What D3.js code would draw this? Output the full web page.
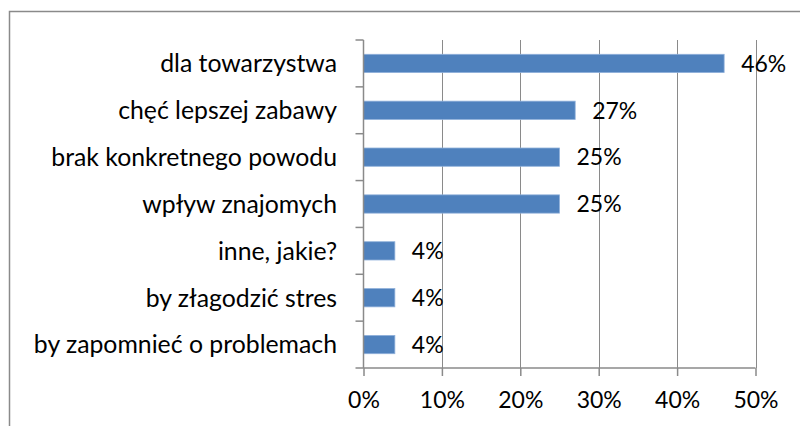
<!DOCTYPE html>
<html>
<head>
<meta charset="utf-8">
<script src="https://cdn.jsdelivr.net/npm/d3@7"></script>
<style>
  html, body { margin: 0; padding: 0; background: #fff; }
  svg { display: block; }
  text { font-family: Lato, "Open Sans", sans-serif; fill: #000; }
</style>
</head>
<body>
<div id="container"></div>
<script>

const categories = [
    "dla towarzystwa",
    "chęć lepszej zabawy",
    "brak konkretnego powodu",
    "wpływ znajomych",
    "inne, jakie?",
    "by złagodzić stres",
    "by zapomnieć o problemach"
];
const values = [46, 27, 25, 25, 4, 4, 4];
const valueLabels = ["46%", "27%", "25%", "25%", "4%", "4%", "4%"];
const xTicks = [0, 10, 20, 30, 40, 50];
const xTickLabels = ["0%", "10%", "20%", "30%", "40%", "50%"];

function main() {
    const svgWidth = 800;
    const svgHeight = 426;
    const labelSize = 24.8;
    const numberSize = 23;

    const svg = d3.select("#container")
        .append("svg")
        .attr("width", svgWidth)
        .attr("height", svgHeight);

    // chart frame (runs off the right and bottom edges)
    svg.append("path")
        .attr("d", "M9.5," + (svgHeight + 2) + "V11.5H" + (svgWidth + 2))
        .attr("fill", "none")
        .attr("stroke", "#8a8a8a")
        .attr("stroke-width", 1.5);

    const plot = { left: 363.5, right: 755.5, top: 40, bottom: 368 };

    const xScale = d3.scaleLinear()
        .domain([0, 50])
        .range([plot.left, plot.right]);

    const yScale = d3.scaleBand()
        .domain(categories)
        .range([plot.top, plot.bottom])
        .paddingInner(0.61)
        .paddingOuter(0.305);

    // gridlines
    svg.append("g")
        .selectAll("line")
        .data(xTicks.slice(1))
        .join("line")
        .attr("x1", d => Math.round(xScale(d)) + 0.5)
        .attr("x2", d => Math.round(xScale(d)) + 0.5)
        .attr("y1", plot.top)
        .attr("y2", plot.bottom)
        .attr("stroke", "#8a8a8a")
        .attr("stroke-width", 1);

    // bars
    svg.append("g")
        .selectAll("rect")
        .data(values)
        .join("rect")
        .attr("x", plot.left)
        .attr("y", (d, i) => yScale(categories[i]))
        .attr("width", d => xScale(d) - xScale(0))
        .attr("height", yScale.bandwidth())
        .attr("fill", "#4f81bd")
        .attr("stroke", "#8fb0da")
        .attr("stroke-width", 0.8);

    // value labels
    svg.append("g")
        .selectAll("text")
        .data(values)
        .join("text")
        .attr("x", d => xScale(d) + 17)
        .attr("y", (d, i) => yScale(categories[i]) + yScale.bandwidth() / 2)
        .attr("dy", "0.36em")
        .style("font-size", numberSize + "px")
        .text((d, i) => valueLabels[i]);

    // x axis
    const xAxis = d3.axisBottom(xScale)
        .tickValues(xTicks)
        .tickSize(8)
        .tickPadding(16)
        .tickFormat((d, i) => xTickLabels[i]);

    const gx = svg.append("g")
        .attr("transform", "translate(0," + plot.bottom + ")")
        .call(xAxis);
    gx.select(".domain").attr("stroke", "#8a8a8a").attr("stroke-width", 1.5)
        .attr("d", "M" + plot.left + ",0H" + plot.right);
    gx.selectAll(".tick line").attr("stroke", "#8a8a8a").attr("stroke-width", 1.5);
    gx.selectAll(".tick text")
        .style("font-size", numberSize + "px")
        .style("font-family", "Lato, 'Open Sans', sans-serif")
        .attr("fill", "#000");

    // y axis
    const yEdges = d3.range(categories.length + 1)
        .map(i => plot.top + i * (plot.bottom - plot.top) / categories.length);
    svg.append("g")
        .selectAll("line")
        .data(yEdges)
        .join("line")
        .attr("x1", plot.left - 8)
        .attr("x2", plot.left)
        .attr("y1", d => d)
        .attr("y2", d => d)
        .attr("stroke", "#8a8a8a")
        .attr("stroke-width", 1.5);
    svg.append("line")
        .attr("x1", plot.left)
        .attr("x2", plot.left)
        .attr("y1", plot.top)
        .attr("y2", plot.bottom)
        .attr("stroke", "#8a8a8a")
        .attr("stroke-width", 1.5);

    // category labels
    svg.append("g")
        .selectAll("text")
        .data(categories)
        .join("text")
        .attr("x", 337)
        .attr("y", d => yScale(d) + yScale.bandwidth() / 2)
        .attr("dy", "0.36em")
        .attr("text-anchor", "end")
        .style("font-size", labelSize + "px")
        .text(d => d);
}

main();
</script>
</body>
</html>
